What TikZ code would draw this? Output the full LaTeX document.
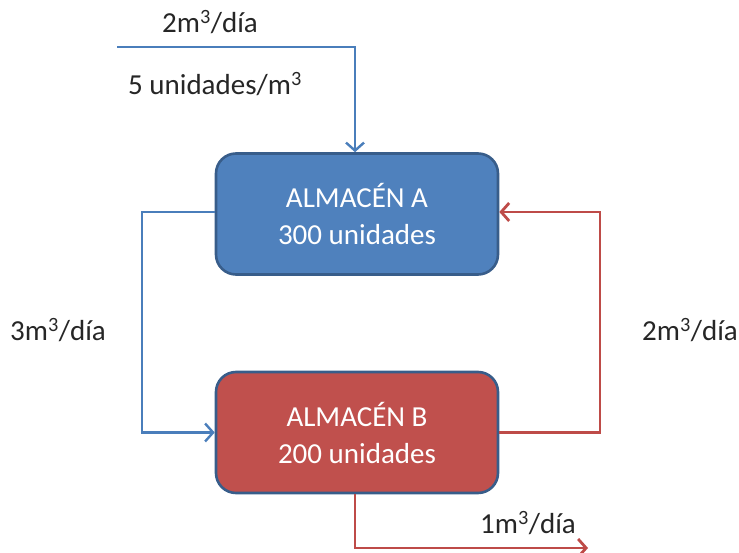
\documentclass[tikz,border=0pt]{standalone}
\usepackage{fontspec}
\setmainfont{Carlito}
\usetikzlibrary{arrows.meta}
\definecolor{bfill}{HTML}{4F81BD}
\definecolor{rfill}{HTML}{C0504D}
\definecolor{bdraw}{HTML}{385D8A}
\definecolor{bline}{HTML}{4A7EBB}
\definecolor{rline}{HTML}{BE4B48}
\definecolor{txt}{HTML}{262626}
\newcommand{\cub}{\textsuperscript{3}}
\tikzset{
  store/.style={draw=bdraw, line width=2.6pt, rounded corners=20pt, minimum width=282pt, minimum height=121pt, text=white, align=center, font=\fontsize{29}{37}\selectfont},
  flowb/.style={draw=bline, line width=2.4pt, -{Straight Barb[length=8pt,width=18pt,line width=2.4pt]}},
  flowr/.style={draw=rline, line width=2.8pt, -{Straight Barb[length=8pt,width=18pt,line width=2.8pt]}},
  lbl/.style={text=txt, font=\fontsize{29}{34}\selectfont, inner sep=0pt}
}
\begin{document}
\begin{tikzpicture}[x=1pt,y=-1pt]
\useasboundingbox (0,0) rectangle (739,553);
\node[store, fill=bfill] (A) at (357,214) {ALMACÉN A\\300 unidades};
\node[store, fill=rfill] (B) at (357,432.5) {ALMACÉN B\\200 unidades};
\coordinate (in0) at (117,47);
\coordinate (in1) at (355,47);
\draw[flowb] (in0) -- (in1) -- (A.north -| in1);
\coordinate (lft) at (142,212);
\draw[flowb] (A.west |- lft) -- (lft) |- (B.west);
\coordinate (rgt) at (600,212);
\draw[flowr] (B.east) -| (rgt) -- (A.east |- rgt);
\coordinate (out0) at (355,548);
\coordinate (out1) at (588,548);
\draw[flowr] (B.south -| out0) -- (out0) -- (out1);
\node[lbl] (l1) at (210,22) {2m\cub/día};
\node[lbl] (l2) at (215,84) {5 unidades/m\cub};
\node[lbl] (l3) at (58,330) {3m\cub/día};
\node[lbl] (l4) at (690,330) {2m\cub/día};
\node[lbl] (l5) at (528,523) {1m\cub/día};
\end{tikzpicture}
\end{document}
